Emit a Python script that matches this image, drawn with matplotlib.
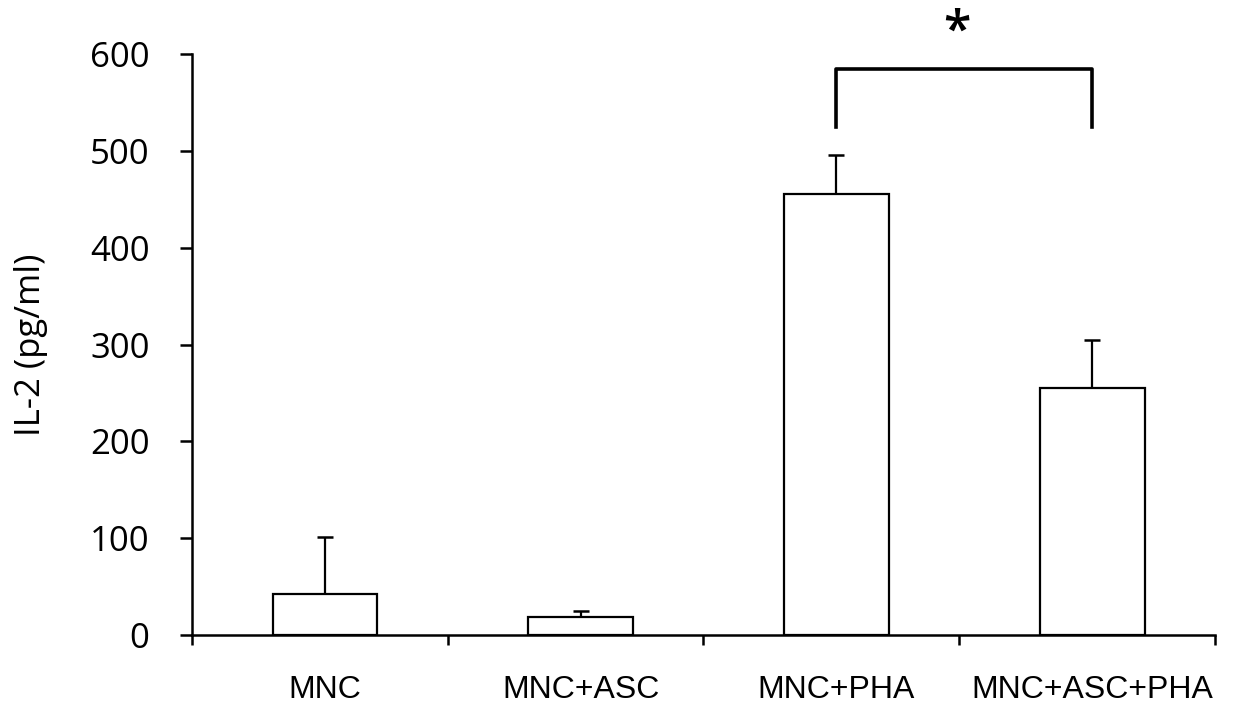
import matplotlib.pyplot as plt
import numpy as np

# Значения
groups = ['MNC', 'MNC+ASC', 'MNC+PHA', 'MNC+ASC+PHA']
il2_mean = [42, 18.5, 455, 255]
il2_err = [59, 6.5, 41, 50]

# Скобка значимости между MNC+PHA и MNC+ASC+PHA
bracket_pair = (2, 3)
bracket_low, bracket_high = 525, 585
star_y = 622

fig = plt.figure(figsize=(12.45, 7.11), dpi=100)
ax = fig.add_axes([0.1542, 0.1069, 0.8217, 0.8171])

x = np.arange(len(groups)) + 0.02
ax.bar(x, il2_mean, width=0.41, color='white', edgecolor='black', linewidth=1.6, zorder=2)
ax.errorbar(x, il2_mean, yerr=[np.zeros(len(il2_err)), il2_err], fmt='none',
            ecolor='black', elinewidth=1.6, capsize=5.5, capthick=1.8, zorder=1)

# Скобка и звёздочка
x1, x2 = x[bracket_pair[0]], x[bracket_pair[1]]
ax.plot([x1, x1, x2, x2], [bracket_low, bracket_high, bracket_high, bracket_low],
        color='black', linewidth=2.6, clip_on=False)
ax.text((x1 + x2) / 2 - 0.03, star_y, '*', ha='center', va='center',
        fontsize=36, family='Open Sans', fontweight='semibold', clip_on=False)

ax.set_xlim(-0.5, 3.5)
ax.set_ylim(0, 600)
for side in ['top', 'right']:
    ax.spines[side].set_visible(False)
ax.spines['left'].set_linewidth(1.8)
ax.spines['bottom'].set_linewidth(1.8)

ax.set_yticks(np.arange(0, 601, 100))
ax.tick_params(axis='y', length=8.6, width=1.8, pad=22, labelsize=25)
for lab in ax.get_yticklabels():
    lab.set_family('Open Sans')

# Подписи категорий по центрам, засечки между категориями
ax.set_xticks(np.arange(len(groups)) + 0.02)
ax.set_xticklabels(groups, family='Liberation Sans', fontsize=23)
ax.tick_params(axis='x', which='major', length=0, pad=29)
ax.set_xticks(np.arange(-0.5, 3.6, 1), minor=True)
ax.tick_params(axis='x', which='minor', length=7, width=1.8)

ax.set_ylabel('IL-2 (pg/ml)', family='Open Sans', fontsize=25, labelpad=30)

plt.savefig('out.png', dpi=100)
